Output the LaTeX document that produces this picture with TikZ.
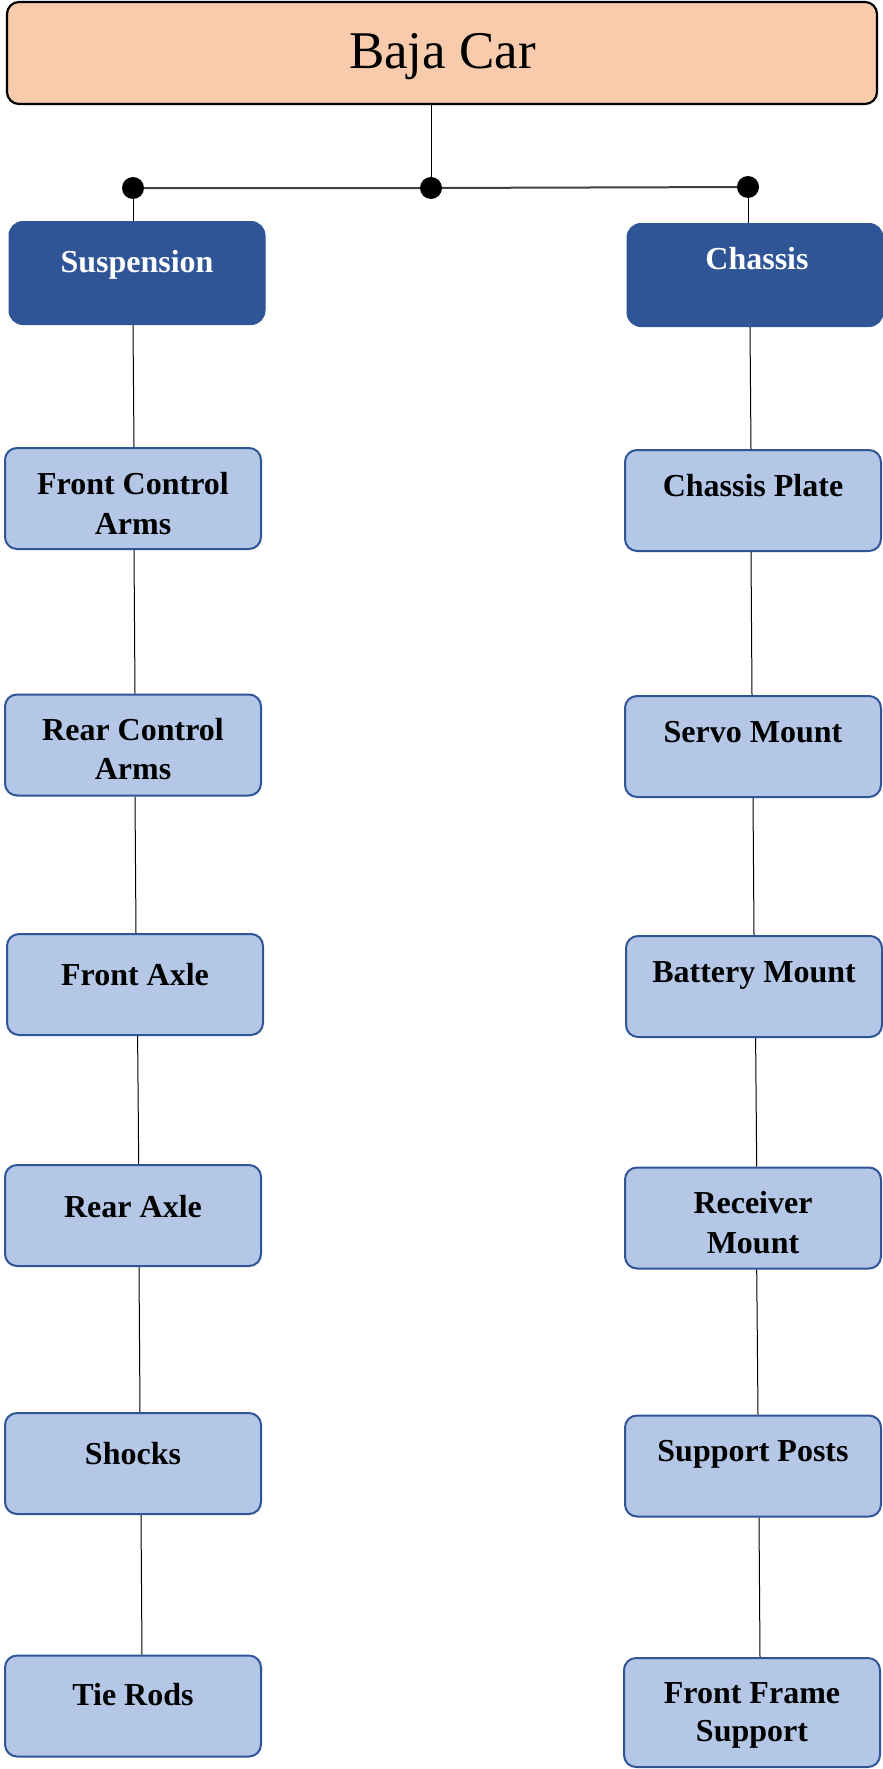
\documentclass[tikz,border=0pt]{standalone}
\usepackage{fontspec}
\setmainfont{Liberation Serif}
\definecolor{peach}{HTML}{F8CBAD}
\definecolor{dblue}{HTML}{2F5597}
\definecolor{lblue}{HTML}{B4C7E7}
\tikzset{
  topbox/.style={draw=black, line width=2.2pt, fill=peach, rounded corners=12pt, minimum width=870pt, minimum height=102pt, inner sep=0pt},
  catbox/.style={draw=dblue, line width=1pt, fill=dblue, rounded corners=14pt, minimum width=256pt, minimum height=103pt, inner sep=0pt},
  itembox/.style={draw=dblue, line width=2pt, fill=lblue, rounded corners=12pt, minimum width=256pt, minimum height=101pt, inner sep=0pt},
  itemtext/.style={font=\fontsize{32}{40}\selectfont\bfseries, align=center, anchor=base, inner sep=0pt},
  cattext/.style={font=\fontsize{32}{40}\selectfont\bfseries, text=white, anchor=base, inner sep=0pt},
  conn/.style={draw=black, line width=1pt},
  bus/.style={draw=black!75, line width=2pt},
  dotnode/.style={circle, fill=black, minimum size=22pt, inner sep=0pt}
}
\begin{document}
\begin{tikzpicture}[x=1pt, y=-1pt]
\useasboundingbox (0,0) rectangle (883,1769);
% top
\node[topbox] (top) at (442,53) {};
\node[font=\fontsize{53}{60}\selectfont, anchor=base, inner sep=0pt] (toptxt) at (442.5,68) {Baja Car};
% dots
\coordinate (dl) at (133,188);
\coordinate (dc) at (431,188);
\coordinate (dr) at (748,187);
% category boxes
\node[catbox] (susp) at (137,273) {};
\node[catbox] (chas) at (755,275) {};
\node[cattext] (susptxt) at (137,272) {Suspension};
\node[cattext] (chastxt) at (757,269) {Chassis};
% left items
\node[itembox] (fca) at (133,498.5) {};
\node[itembox] (rca) at (133,745) {};
\node[itembox] (fa) at (135,984.5) {};
\node[itembox] (ra) at (133,1215.5) {};
\node[itembox] (sh) at (133,1463.5) {};
\node[itembox] (tr) at (133,1706) {};
% right items
\node[itembox] (cp) at (753,500.5) {};
\node[itembox] (sm) at (753,746.5) {};
\node[itembox] (bm) at (754,986.5) {};
\node[itembox] (rm) at (753,1218) {};
\node[itembox] (sp) at (753,1466) {};
\node[itembox, minimum height=109pt] (ffs) at (752,1712.5) {};
% texts
\node[itemtext] (fcat1) at (133,494) {Front Control};
\node[itemtext] (fcat2) at (133,534) {Arms};
\node[itemtext] (rcat1) at (133,740) {Rear Control};
\node[itemtext] (rcat2) at (133,779) {Arms};
\node[itemtext] (fat) at (135,985) {Front Axle};
\node[itemtext] (rat) at (133,1217) {Rear Axle};
\node[itemtext] (sht) at (133,1464) {Shocks};
\node[itemtext] (trt) at (133,1705) {Tie Rods};
\node[itemtext] (cpt) at (753,496) {Chassis Plate};
\node[itemtext] (smt) at (753,742) {Servo Mount};
\node[itemtext] (bmt) at (754,982) {Battery Mount};
\node[itemtext] (rmt1) at (753,1213) {Receiver};
\node[itemtext] (rmt2) at (753,1253) {Mount};
\node[itemtext] (spt) at (753,1461) {Support Posts};
\node[itemtext] (ffst1) at (752,1703) {Front Frame};
\node[itemtext] (ffst2) at (752,1741) {Support};
% connectors
\draw[conn] ([xshift=-11pt]top.south) -- (dc);
\draw[bus] (dl) -- (dc) -- (dr);
\draw[conn] (dl) -- ([xshift=-4pt]susp.north);
\draw[conn] (dr) -- ([xshift=-7pt]chas.north);
\draw[conn] ([xshift=-4pt]susp.south) -- ([xshift=1pt]fca.north);
\draw[conn] ([xshift=1pt]fca.south) -- ([xshift=2pt]rca.north);
\draw[conn] ([xshift=2pt]rca.south) -- ([xshift=1pt]fa.north);
\draw[conn] ([xshift=2.6pt]fa.south) -- ([xshift=5.7pt]ra.north);
\draw[conn] ([xshift=6pt]ra.south) -- ([xshift=7pt]sh.north);
\draw[conn] ([xshift=8pt]sh.south) -- ([xshift=9pt]tr.north);
\draw[conn] ([xshift=-5pt]chas.south) -- ([xshift=-2pt]cp.north);
\draw[conn] ([xshift=-2pt]cp.south) -- ([xshift=-1pt]sm.north);
\draw[conn] (sm.south) -- (bm.north);
\draw[conn] ([xshift=1.6pt]bm.south) -- ([xshift=3.7pt]rm.north);
\draw[conn] ([xshift=3.7pt]rm.south) -- ([xshift=5pt]sp.north);
\draw[conn] ([xshift=6pt]sp.south) -- ([xshift=8pt]ffs.north);
% dot markers
\node[dotnode] (dln) at (dl) {};
\node[dotnode] (dcn) at (dc) {};
\node[dotnode] (drn) at (dr) {};
\end{tikzpicture}
\end{document}
